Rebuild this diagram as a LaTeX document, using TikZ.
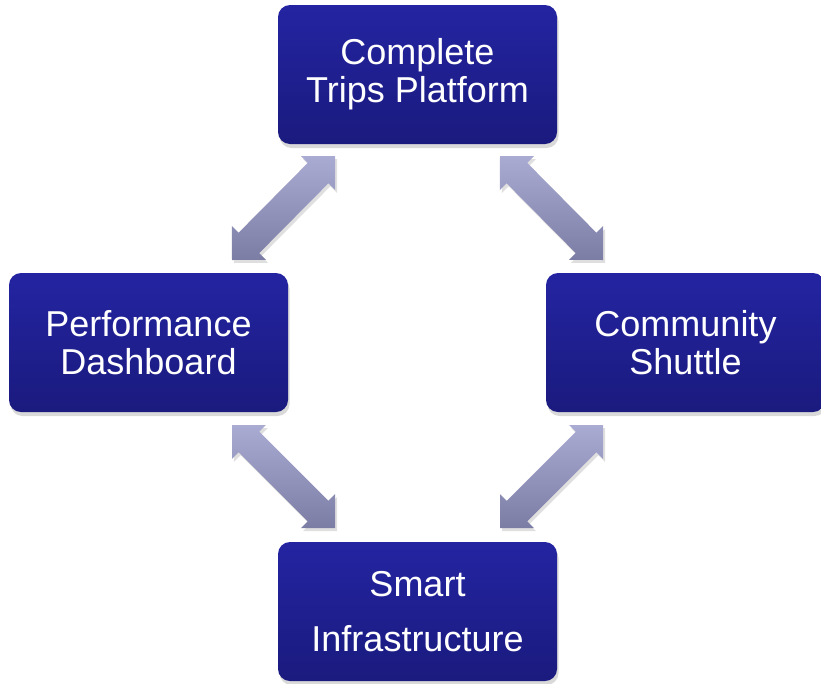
\documentclass[tikz,border=0pt]{standalone}
\usepackage{fontspec}
\setmainfont{Liberation Sans}
\usetikzlibrary{calc,shadows}
\definecolor{boxtop}{HTML}{2424A2}
\definecolor{boxbot}{HTML}{1A1A7E}
\definecolor{arrtop}{HTML}{AAABD2}
\definecolor{arrbot}{HTML}{7C7DA4}
\tikzset{
  stage/.style={rectangle, rounded corners=12pt, minimum width=279pt, minimum height=139pt,
    top color=boxtop, bottom color=boxbot, draw=none, text=white, align=center,
    font=\fontsize{36}{38}\selectfont,
    drop shadow={shadow xshift=1.5pt, shadow yshift=-4pt, opacity=0.3}},
  linkarrow/.style={top color=arrtop, bottom color=arrbot, draw=none,
    drop shadow={shadow xshift=2pt, shadow yshift=-3pt, opacity=0.25}}
}
\newcommand\twoheadlink[2]{%
  \coordinate (#1h) at ($(#1)!24pt!(#2)$);
  \coordinate (#2h) at ($(#2)!24pt!(#1)$);
  \path[linkarrow] (#1)
    -- ($(#1h)!24pt!90:(#2)$) -- ($(#1h)!14.5pt!90:(#2)$)
    -- ($(#2h)!14.5pt!-90:(#1)$) -- ($(#2h)!24pt!-90:(#1)$)
    -- (#2)
    -- ($(#2h)!24pt!90:(#1)$) -- ($(#2h)!14.5pt!90:(#1)$)
    -- ($(#1h)!14.5pt!-90:(#2)$) -- ($(#1h)!24pt!-90:(#2)$)
    -- cycle;}
\begin{document}
\begin{tikzpicture}[x=1pt,y=-1pt]
\useasboundingbox (0,0) rectangle (821,683);
\node[stage] (top) at (417.5,74.5) {Complete\\Trips Platform};
\node[stage] (left) at (148.5,342.5) {Performance\\Dashboard};
\node[stage] (right) at (685.5,342.5) {Community\\Shuttle};
\node[stage] (bottom) at (417.5,611.5) {Smart\\[17pt]Infrastructure};
\coordinate (tla) at (232,260);
\coordinate (tlb) at (335,156);
\coordinate (tra) at (500,156);
\coordinate (trb) at (603,260);
\coordinate (bla) at (232,425);
\coordinate (blb) at (335,528);
\coordinate (bra) at (603,425);
\coordinate (brb) at (500,528);
\twoheadlink{tla}{tlb}
\twoheadlink{tra}{trb}
\twoheadlink{bla}{blb}
\twoheadlink{bra}{brb}
\end{tikzpicture}
\end{document}
